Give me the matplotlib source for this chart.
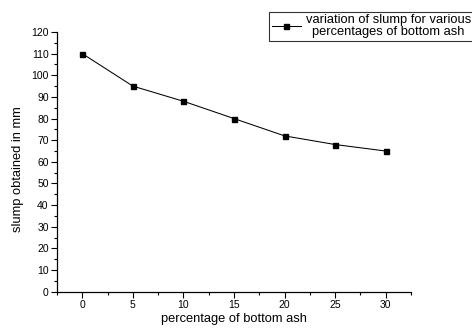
import numpy as np
import matplotlib.pyplot as plt
from matplotlib.ticker import MultipleLocator

plt.rcParams['font.family'] = ['Liberation Sans', 'DejaVu Sans']

ash_pct = [0, 5, 10, 15, 20, 25, 30]
slump_mm = [110, 95, 88, 80, 72, 68, 65]

fig = plt.figure(figsize=(4.72, 3.28), dpi=100)
ax = fig.add_axes([0.1208, 0.1107, 0.75, 0.7917])

ax.plot(ash_pct, slump_mm, color='black', linewidth=0.75, marker='s',
        markersize=3.6, label='variation of slump for various\npercentages of bottom ash')

ax.set_xlim(-2.5, 32.5)
ax.set_ylim(0, 120)
ax.xaxis.set_major_locator(MultipleLocator(5))
ax.xaxis.set_minor_locator(MultipleLocator(2.5))
ax.yaxis.set_major_locator(MultipleLocator(10))
ax.yaxis.set_minor_locator(MultipleLocator(5))
ax.tick_params(which='both', direction='out', labelsize=7.5, width=0.8, pad=2)
ax.tick_params(which='major', length=4)
ax.tick_params(which='minor', length=2.5)

for s in ['top', 'right']:
    ax.spines[s].set_visible(False)
for s in ['left', 'bottom']:
    ax.spines[s].set_linewidth(0.9)

ax.set_xlabel('percentage of bottom ash', fontsize=9.3, labelpad=2)
ax.set_ylabel('slump obtained in mm', fontsize=9.3)
ax.yaxis.set_label_coords(-0.092, 0.473)

leg = fig.legend(loc='upper left', bbox_to_anchor=(0.570, 0.964), fontsize=9.3,
                 frameon=True, fancybox=False, handlelength=2.3, handletextpad=0.35,
                 borderpad=0.2, borderaxespad=0)
leg.get_frame().set_edgecolor('black')
leg.get_frame().set_linewidth(0.8)
for t in leg.get_texts():
    t.set_multialignment('center')
    t.set_linespacing(1.0)

fig.savefig('out.png', dpi=100)
